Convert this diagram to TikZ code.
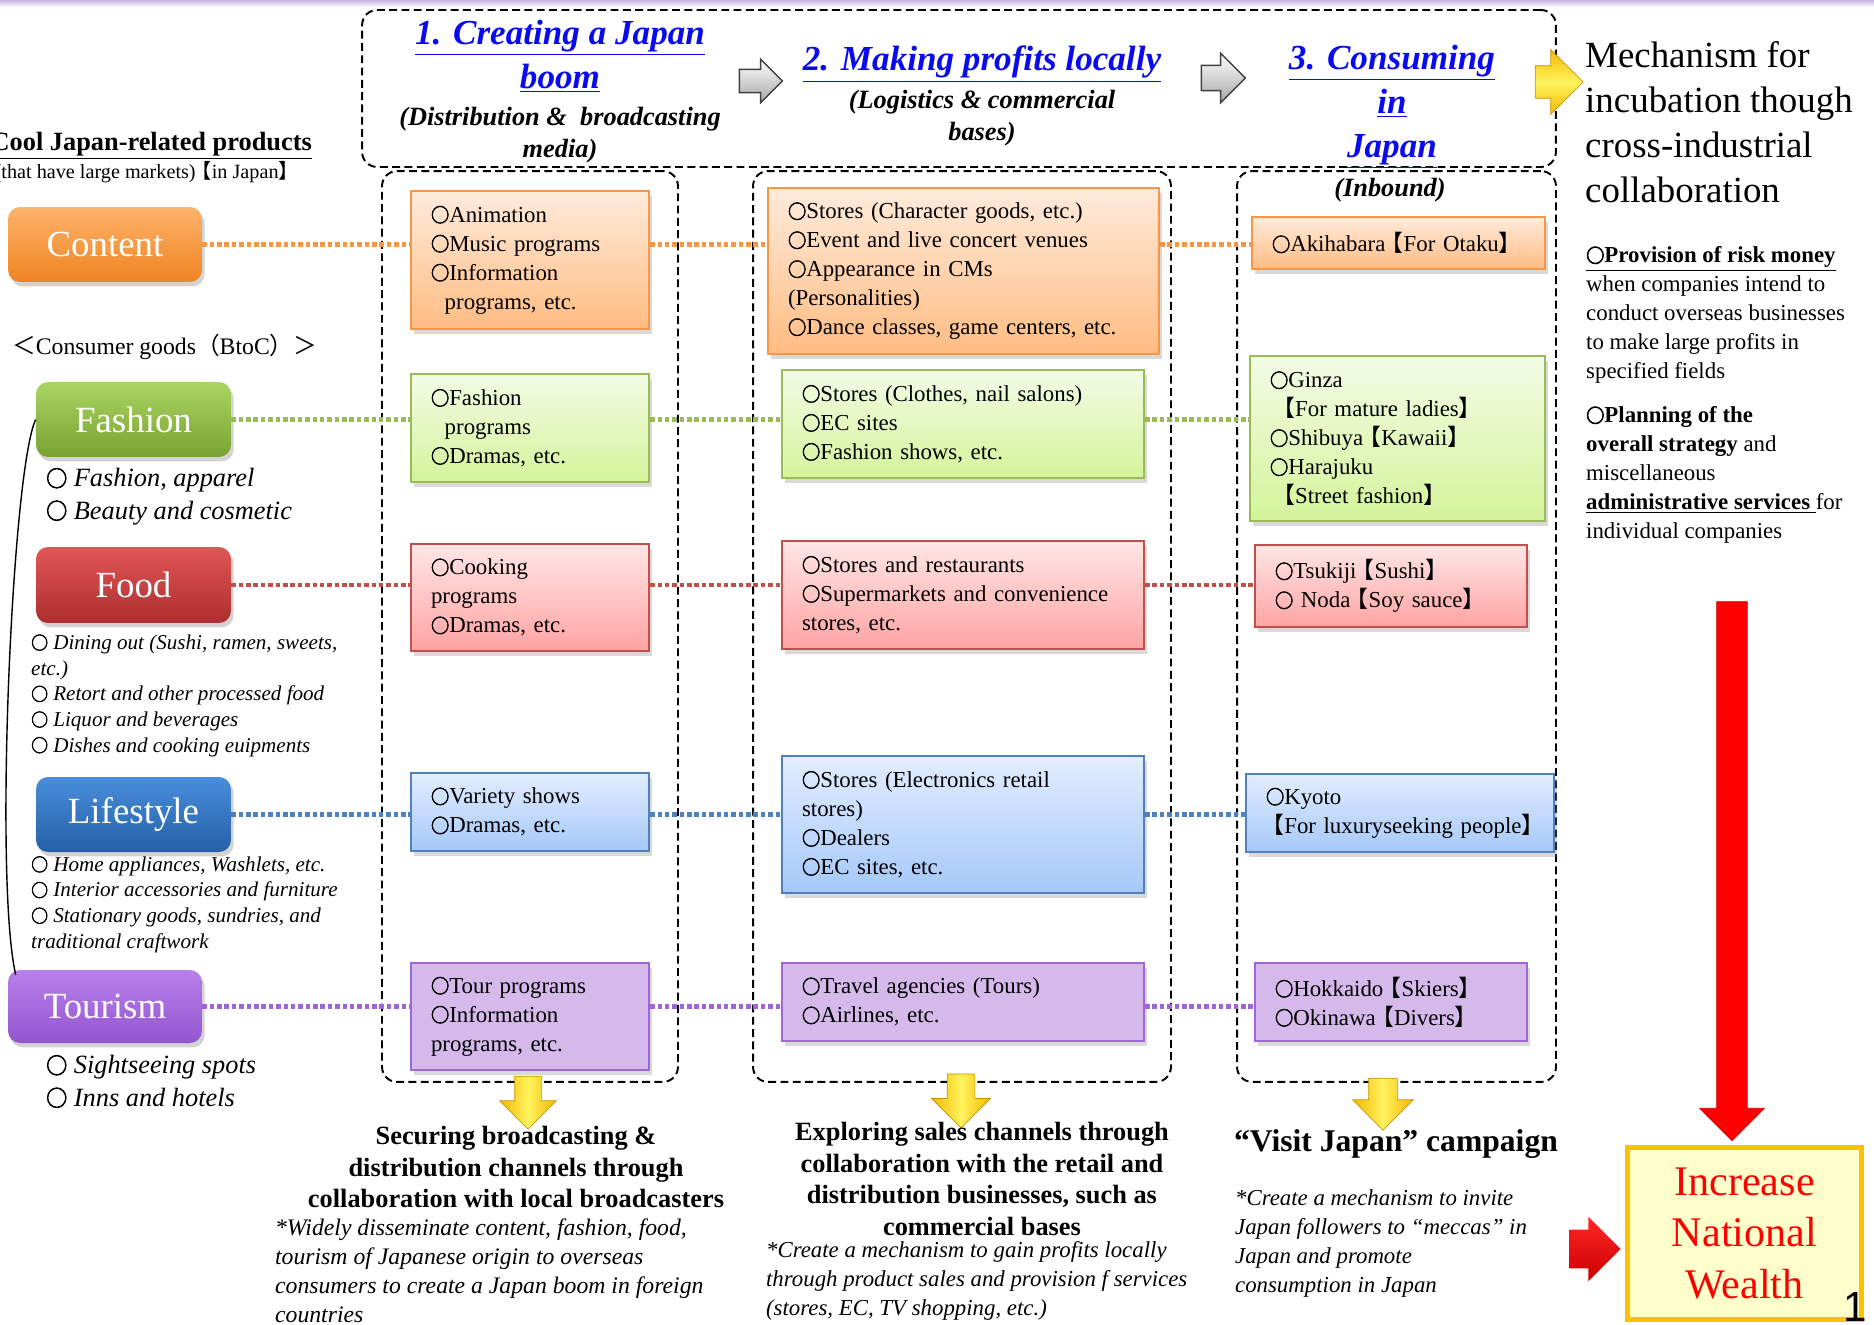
\documentclass[tikz,border=0pt]{standalone}
\usepackage{fontspec}
\setmainfont{Liberation Serif}
\setsansfont{Liberation Sans}
\newfontfamily\cjk{Noto Sans CJK JP}
\newfontfamily\cjkbold{Noto Sans CJK JP}[FakeBold=3]
\usetikzlibrary{shapes.arrows,shadows}

\definecolor{headblue}{HTML}{0A0AEE}
\definecolor{topbar}{HTML}{C3B3DE}
\definecolor{orgline}{HTML}{F79646}
\definecolor{orgtop}{HTML}{FFEBDC}
\definecolor{orgbot}{HTML}{FFBC82}
\definecolor{grnline}{HTML}{9BBB59}
\definecolor{grntop}{HTML}{F3FBE6}
\definecolor{grnbot}{HTML}{D4F49A}
\definecolor{redline}{HTML}{C0504D}
\definecolor{redtop}{HTML}{FFE6E6}
\definecolor{redbot}{HTML}{FFA3A3}
\definecolor{bluline}{HTML}{4F81BD}
\definecolor{blutop}{HTML}{E2EDFF}
\definecolor{blubot}{HTML}{A5C8F8}
\definecolor{purline}{HTML}{A066D8}
\definecolor{purfill}{HTML}{D4B9EA}
\definecolor{conA}{HTML}{FDB36B}
\definecolor{conB}{HTML}{F08322}
\definecolor{fasA}{HTML}{AAD562}
\definecolor{fasB}{HTML}{78A332}
\definecolor{fooA}{HTML}{E25555}
\definecolor{fooB}{HTML}{AD2F2F}
\definecolor{lifA}{HTML}{4A8EDB}
\definecolor{lifB}{HTML}{2460A8}
\definecolor{touA}{HTML}{B880EA}
\definecolor{touB}{HTML}{9355CF}
\definecolor{ygold}{HTML}{F5B800}
\definecolor{ylight}{HTML}{FFF35E}
\definecolor{wfill}{HTML}{FFFFCC}
\definecolor{wline}{HTML}{FFC000}

% bullet and brackets
\newcommand{\bl}{\scalebox{0.8}[0.85]{\cjkbold ○}}
\newcommand{\lb}{\kern-0.2em{\cjk 【}}
\newcommand{\rb}{{\cjk 】}\kern-0.2em}

\begin{document}
\begin{tikzpicture}[x=0.02cm, y=-0.02cm,
  catbtn/.style={rectangle, rounded corners=0.24cm, text=white, font=\fontsize{21}{24}\selectfont, drop shadow={opacity=0.35, shadow xshift=1.5pt, shadow yshift=-2.5pt}},
  itembox/.style={rectangle, line width=1.3pt, align=left, inner xsep=0.4cm, inner ysep=0pt, font=\fontsize{13}{16.5}\selectfont, drop shadow={opacity=0.3, shadow xshift=1.5pt, shadow yshift=-3pt}},
  colbox/.style={draw, line width=1.1pt, dash pattern=on 4.5pt off 2.5pt, rounded corners=0.3cm},
  rowline/.style={line width=2.8pt, dash pattern=on 2.6pt off 1.6pt},
  garrow/.style={single arrow, draw=black!75, line width=0.8pt, top color=white, bottom color=black!35, inner xsep=0pt},
  yarrow/.style={single arrow, draw=ygold!80!black, line width=0.4pt, left color=ygold, right color=ygold, middle color=ylight, inner xsep=0pt},
  rarrow/.style={single arrow, inner xsep=0pt},
  headtxt/.style={text=headblue, font=\fontsize{20}{25}\selectfont\bfseries\itshape, align=center},
  subtxt/.style={font=\fontsize{15}{18}\selectfont\bfseries\itshape, align=center},
  bigitems/.style={anchor=west, align=left, font=\fontsize{15}{18.5}\selectfont\itshape},
  smallitems/.style={anchor=west, align=left, font=\fontsize{12}{14.6}\selectfont\itshape},
  goaltxt/.style={align=center, inner sep=1pt, font=\fontsize{15}{18}\selectfont\bfseries},
  notetxt/.style={anchor=west, align=left, inner sep=1pt, font=\fontsize{13}{16.5}\selectfont\itshape},
  sidetxt/.style={anchor=west, align=left, font=\fontsize{13}{16.5}\selectfont}
]
\useasboundingbox (0,0) rectangle (1874,1325);
\fill[top color=topbar, bottom color=white] (0,0) rectangle (1874,7);

% stage frames
\node (stages) [colbox, minimum width=23.88cm, minimum height=3.14cm] at (959,88.5) {};
\node (col1) [colbox, minimum width=5.92cm, minimum height=18.22cm] at (530,626.5) {};
\node (col2) [colbox, minimum width=8.36cm, minimum height=18.22cm] at (962,626.5) {};
\node (col3) [colbox, minimum width=6.38cm, minimum height=18.22cm] at (1396.5,626.5) {};

% stage titles
\node (h1) [headtxt] at (560,56.5) {\underline{1. Creating a Japan}\\\underline{boom}};
\node (s1) [subtxt] at (560,135) {(Distribution \&\ \ broadcasting\\media)};
\node (h2) [headtxt] at (982,64) {\underline{2. Making profits locally}};
\node (s2) [subtxt] at (982,118) {(Logistics \& commercial\\bases)};
\node (h3) [headtxt] at (1392,107) {\underline{3. Consuming}\\\underline{in}\\\underline{Japan}};
\node (inb) [subtxt] at (1390,190) {(Inbound)};
\node (ga1) [garrow, single arrow head extend=0.2cm, inner ysep=0.22cm, minimum height=0.86cm] at (755,81) {};
\node (ga2) [garrow, single arrow head extend=0.24cm, inner ysep=0.24cm, minimum height=0.88cm] at (1217,78) {};
\node (yr) [yarrow, top color=ygold, bottom color=ygold, middle color=ylight, single arrow head extend=0.32cm, inner ysep=0.32cm, minimum height=0.96cm] at (1551,82) {};
\node (mech) [anchor=west, align=left, font=\fontsize{21}{25.5}\selectfont] at (1579,122) {Mechanism for\\incubation though\\cross-industrial\\collaboration};

% product categories
\node (cool) [anchor=east, font=\fontsize{15}{18}\selectfont\bfseries] at (318,146) {\underline{Cool Japan-related products}};
\node (coolsub) [anchor=east, font=\fontsize{11.5}{14}\selectfont] at (301,172) {(that have large markets)\lb in Japan\rb};
\node (btoc) [anchor=west, font=\fontsize{13.5}{16}\selectfont] at (6,347) {{\cjk ＜}Consumer goods{\cjk （}BtoC{\cjk ）＞}};
\node (con) [catbtn, top color=conA, bottom color=conB, minimum width=3.88cm, minimum height=1.5cm] at (105,244.5) {Content};
\node (fas) [catbtn, top color=fasA, bottom color=fasB, minimum width=3.9cm, minimum height=1.5cm] at (133.5,419.5) {Fashion};
\node (foo) [catbtn, top color=fooA, bottom color=fooB, minimum width=3.9cm, minimum height=1.52cm] at (133.5,585) {Food};
\node (lif) [catbtn, top color=lifA, bottom color=lifB, minimum width=3.9cm, minimum height=1.5cm] at (133.5,814.5) {Lifestyle};
\node (tou) [catbtn, top color=touA, bottom color=touB, minimum width=3.88cm, minimum height=1.46cm] at (105,1006.5) {Tourism};
\node (fasitems) [bigitems] at (40,496.5) {\bl\ Fashion, apparel\\\bl\ Beauty and cosmetic};
\node (fooitems) [smallitems] at (25,695.5) {\bl\ Dining out (Sushi, ramen, sweets,\\etc.)\\\bl\ Retort and other processed food\\\bl\ Liquor and beverages\\\bl\ Dishes and cooking euipments};
\node (lifitems) [smallitems] at (25,904.5) {\bl\ Home appliances, Washlets, etc.\\\bl\ Interior accessories and furniture\\\bl\ Stationary goods, sundries, and\\traditional craftwork};
\node (touitems) [bigitems] at (40,1081.5) {\bl\ Sightseeing spots\\\bl\ Inns and hotels};

% 1. Japan boom
\node (c1con) [itembox, draw=orgline, top color=orgtop, bottom color=orgbot, text width=3.96cm, minimum height=2.76cm] at (530,260) {\bl Animation\\\bl Music programs\\\bl Information\\\hspace*{0.6em}programs, etc.};
\node (c1fas) [itembox, draw=grnline, top color=grntop, bottom color=grnbot, text width=3.96cm, minimum height=2.16cm] at (530,428) {\bl Fashion\\\hspace*{0.6em}programs\\\bl Dramas, etc.};
\node (c1foo) [itembox, draw=redline, top color=redtop, bottom color=redbot, text width=3.96cm, minimum height=2.14cm] at (530,597.5) {\bl Cooking\\programs\\\bl Dramas, etc.};
\node (c1lif) [itembox, draw=bluline, top color=blutop, bottom color=blubot, text width=3.96cm, minimum height=1.56cm] at (530,812) {\bl Variety shows\\\bl Dramas, etc.};
\node (c1tou) [itembox, draw=purline, fill=purfill, text width=3.96cm, minimum height=2.14cm] at (530,1016.5) {\bl Tour programs\\\bl Information\\programs, etc.};

% 2. profits locally
\node (c2con) [itembox, draw=orgline, top color=orgtop, bottom color=orgbot, text width=7.02cm, minimum height=3.32cm] at (963.5,271) {\bl Stores (Character goods, etc.)\\\bl Event and live concert venues\\\bl Appearance in CMs\\(Personalities)\\\bl Dance classes, game centers, etc.};
\node (c2fas) [itembox, draw=grnline, top color=grntop, bottom color=grnbot, text width=6.44cm, minimum height=2.16cm] at (963,424) {\bl Stores (Clothes, nail salons)\\\bl EC sites\\\bl Fashion shows, etc.};
\node (c2foo) [itembox, draw=redline, top color=redtop, bottom color=redbot, text width=6.44cm, minimum height=2.16cm] at (963,595) {\bl Stores and restaurants\\\bl Supermarkets and convenience\\stores, etc.};
\node (c2lif) [itembox, draw=bluline, top color=blutop, bottom color=blubot, text width=6.44cm, minimum height=2.74cm] at (963,824.5) {\bl Stores (Electronics retail\\stores)\\\bl Dealers\\\bl EC sites, etc.};
\node (c2tou) [itembox, draw=purline, fill=purfill, text width=6.44cm, minimum height=1.56cm] at (963,1002) {\bl Travel agencies (Tours)\\\bl Airlines, etc.};

% 3. consuming in Japan
\node (c3con) [itembox, draw=orgline, top color=orgtop, bottom color=orgbot, text width=5.06cm, minimum height=1.04cm] at (1398.5,243) {\mbox{\bl Akihabara\lb For Otaku\rb}};
\node (c3fas) [itembox, draw=grnline, top color=grntop, bottom color=grnbot, text width=5.1cm, minimum height=3.3cm] at (1397.5,438.5) {\bl Ginza\\\hspace*{0.3em}\lb For mature ladies\rb\\\bl Shibuya\lb Kawaii\rb\\\bl Harajuku\\\hspace*{0.3em}\lb Street fashion\rb};
\node (c3foo) [itembox, draw=redline, top color=redtop, bottom color=redbot, text width=4.64cm, minimum height=1.64cm] at (1391,586) {\bl Tsukiji\lb Sushi\rb\\\bl\ Noda\lb Soy sauce\rb};
\node (c3lif) [itembox, draw=bluline, top color=blutop, bottom color=blubot, text width=5.36cm, minimum height=1.56cm] at (1400,813) {\bl Kyoto\\\mbox{\lb For luxuryseeking people\rb}};
\node (c3tou) [itembox, draw=purline, fill=purfill, text width=4.64cm, minimum height=1.56cm] at (1391,1002) {\bl Hokkaido\lb Skiers\rb\\\bl Okinawa\lb Divers\rb};

% dotted rows
\draw[rowline, orgline] (con.east) -- (con.east -| c1con.west);
\draw[rowline, orgline] (con.east -| c1con.east) -- (con.east -| c2con.west);
\draw[rowline, orgline] (con.east -| c2con.east) -- (con.east -| c3con.west);
\draw[rowline, grnline] (fas.east) -- (fas.east -| c1fas.west);
\draw[rowline, grnline] (fas.east -| c1fas.east) -- (fas.east -| c2fas.west);
\draw[rowline, grnline] (fas.east -| c2fas.east) -- (fas.east -| c3fas.west);
\draw[rowline, redline] (foo.east) -- (foo.east -| c1foo.west);
\draw[rowline, redline] (foo.east -| c1foo.east) -- (foo.east -| c2foo.west);
\draw[rowline, redline] (foo.east -| c2foo.east) -- (foo.east -| c3foo.west);
\draw[rowline, bluline] (lif.east) -- (lif.east -| c1lif.west);
\draw[rowline, bluline] (lif.east -| c1lif.east) -- (lif.east -| c2lif.west);
\draw[rowline, bluline] (lif.east -| c2lif.east) -- (lif.east -| c3lif.west);
\draw[rowline, purline] (tou.east) -- (tou.east -| c1tou.west);
\draw[rowline, purline] (tou.east -| c1tou.east) -- (tou.east -| c2tou.west);
\draw[rowline, purline] (tou.east -| c2tou.east) -- (tou.east -| c3tou.west);

% bracket from Fashion to Tourism
\draw[line width=0.8pt] (fas.west) .. controls (12,470) and (-6,880) .. ([shift={(8,5)}]tou.north west);

% results of each stage
\node (ya1) [yarrow, rotate=-90, single arrow head extend=0.3cm, inner ysep=0.26cm, minimum height=1.06cm] at (528,1096) {};
\node (ya2) [yarrow, rotate=-90, single arrow head extend=0.31cm, inner ysep=0.27cm, minimum height=1.08cm] at (961,1094) {};
\node (ya3) [yarrow, rotate=-90, single arrow head extend=0.32cm, inner ysep=0.28cm, minimum height=1.04cm] at (1383,1097) {};
\node (b1) [goaltxt] at (516,1167) {Securing broadcasting \&\\distribution channels through\\collaboration with local broadcasters};
\node (n1) [notetxt, font=\fontsize{13.5}{16.5}\selectfont\itshape] at (273,1271) {*Widely disseminate content, fashion, food,\\tourism of Japanese origin to overseas\\consumers to create a Japan boom in foreign\\countries};
\node (b2) [goaltxt] at (982,1179) {Exploring sales channels through\\collaboration with the retail and\\distribution businesses, such as\\commercial bases};
\node (n2) [notetxt] at (764,1281) {*Create a mechanism to gain profits locally\\through product sales and provision f services\\(stores, EC, TV shopping, etc.)};
\node (b3) [goaltxt, font=\fontsize{18}{21}\selectfont\bfseries] at (1396,1144) {“Visit Japan” campaign};
\node (n3) [notetxt] at (1233,1243.5) {*Create a mechanism to invite\\Japan followers to “meccas” in\\Japan and promote\\consumption in Japan};

% support side
\node (risk) [sidetxt] at (1580,315) {\textbf{\underline{\bl Provision of risk money}}\\when companies intend to\\conduct overseas businesses\\to make large profits in\\specified fields};
\node (plan) [sidetxt] at (1580,475) {\textbf{\bl Planning of the}\\\textbf{overall strategy} and\\miscellaneous\\\textbf{\underline{administrative services\ }}for\\individual companies};
\node (wealth) [draw=wline, line width=3pt, fill=wfill, minimum width=4.68cm, minimum height=3.44cm, text=red, align=center, font=\fontsize{24}{29.5}\selectfont] at (1744.5,1233.5) {Increase\\National\\Wealth};
\node (rdown) [rarrow, rotate=-90, fill=red, draw=red!80!black, line width=0.4pt, single arrow head extend=0.34cm, inner ysep=0.3cm, minimum height=10.78cm] at (1732,863.5) {};
\node (rright) [rarrow, top color=red!85!white, bottom color=red!80!black, single arrow head extend=0.26cm, inner ysep=0.38cm, minimum height=1.02cm] at (1585.5,1249) {};
\node (pgno) [anchor=base west, inner sep=0pt, font=\sffamily\fontsize{24}{24}\selectfont] at (1843,1321) {1};
\end{tikzpicture}
\end{document}
